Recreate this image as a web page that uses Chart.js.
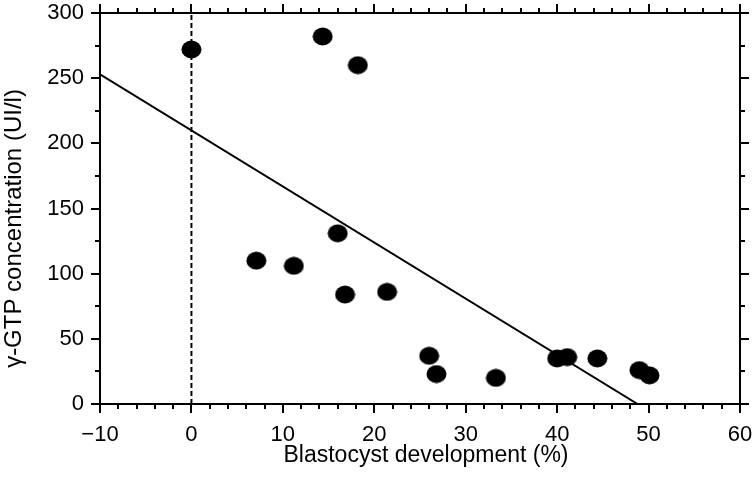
<!DOCTYPE html>
<html>
<head>
<meta charset="utf-8">
<script src="https://cdn.jsdelivr.net/npm/chart.js@4"></script>
<style>
  html, body { margin: 0; padding: 0; background: #fff; }
  #wrap { width: 756px; height: 491px; }
</style>
</head>
<body>
<div id="wrap"><canvas id="chart" width="756" height="491"></canvas></div>
<script>
// --- data ---
const blastX = [0, 14.35, 18.2, 16.0, 7.1, 11.2, 16.8, 21.4, 26.0, 26.8, 33.3, 40.0, 41.1, 44.4, 49.0, 50.1];
const gtpY = [272, 282, 260, 131, 110, 106, 84, 86, 37, 23, 20, 35, 36, 35, 26, 22];

// regression line end points
const regX = [-10, 48.8];
const regY = [253, 0];

// dashed reference line at 0 %
const refX = [0, 0];
const refY = [0, 300];

// axes
const xMin = -10, xMax = 60, xStep = 10, xMinorStep = 2;
const yMin = 0, yMax = 300, yStep = 50, yMinorStep = 25;
const xTitle = 'Blastocyst development (%)';
const yTitle = 'γ-GTP concentration (UI/l)';

const toPoints = (xs, ys) => xs.map((x, i) => ({ x: x, y: ys[i] }));

const family = '"Liberation Sans", Arial, sans-serif';
const tickFont = { family: family, size: 22 };

// ellipse marker, a bit wider than tall
function makeDot() {
    const c = document.createElement('canvas');
    c.width = 21;
    c.height = 19;
    const g = c.getContext('2d');
    g.fillStyle = '#000';
    g.beginPath();
    g.ellipse(10.5, 9.5, 10, 9, 0, 0, Math.PI * 2);
    g.fill();
    return c;
}

// frame, outward tick marks on all four sides, axis titles
const frameTicks = {
    id: 'frameTicks',
    afterDraw(chart) {
        const { ctx, chartArea: a, scales } = chart;
        const xs = scales.x, ys = scales.y;
        ctx.save();
        ctx.strokeStyle = '#000';
        ctx.lineWidth = 2;
        ctx.strokeRect(a.left, a.top, a.right - a.left, a.bottom - a.top);
        ctx.beginPath();
        for (let v = xMin; v <= xMax + 1e-9; v += xMinorStep) {
            const px = Math.round(xs.getPixelForValue(v));
            const len = (v % xStep === 0) ? 9 : 5;
            ctx.moveTo(px, a.bottom); ctx.lineTo(px, a.bottom + len);
            ctx.moveTo(px, a.top); ctx.lineTo(px, a.top - len);
        }
        for (let v = yMin; v <= yMax + 1e-9; v += yMinorStep) {
            const py = Math.round(ys.getPixelForValue(v));
            const len = (v % yStep === 0) ? 9 : 5;
            ctx.moveTo(a.left, py); ctx.lineTo(a.left - len, py);
            ctx.moveTo(a.right, py); ctx.lineTo(a.right + len, py);
        }
        ctx.stroke();

        // titles (the original sits a little off-centre)
        ctx.fillStyle = '#000';
        ctx.textAlign = 'center';
        ctx.textBaseline = 'alphabetic';
        ctx.font = '23px ' + family;
        ctx.fillText(xTitle, (a.left + a.right) / 2 + 6, a.bottom + 58);

        ctx.translate(21, (a.top + a.bottom) / 2 + 20);
        ctx.rotate(-Math.PI / 2);
        ctx.font = '24px ' + family;
        ctx.fillText(yTitle, 0, 0);
        ctx.restore();
    }
};

new Chart(document.getElementById('chart'), {
    type: 'scatter',
    data: {
        datasets: [
            {
                data: toPoints(blastX, gtpY),
                pointStyle: makeDot(),
                pointRadius: 10,
                backgroundColor: '#000',
                borderColor: '#000'
            },
            {
                type: 'line',
                data: toPoints(regX, regY),
                borderColor: '#000',
                borderWidth: 2,
                pointRadius: 0,
                fill: false
            },
            {
                type: 'line',
                data: toPoints(refX, refY),
                borderColor: '#000',
                borderWidth: 2,
                borderDash: [5, 3],
                pointRadius: 0,
                fill: false
            }
        ]
    },
    options: {
        responsive: false,
        animation: false,
        layout: { padding: { top: 13, right: 16, bottom: 20, left: 0 } },
        plugins: {
            legend: { display: false },
            tooltip: { enabled: false }
        },
        scales: {
            x: {
                type: 'linear',
                min: xMin,
                max: xMax,
                grid: { display: false, drawTicks: false },
                border: { display: false },
                afterFit: s => {
                    s.height = 491 - 404 - 20;
                    s.paddingLeft = 0;
                    s.paddingRight = 0;
                },
                ticks: {
                    stepSize: xStep,
                    color: '#000',
                    font: tickFont,
                    padding: 18,
                    maxRotation: 0,
                    callback: v => (v < 0 ? '\u2212' + Math.abs(v) : String(v))
                }
            },
            y: {
                type: 'linear',
                min: yMin,
                max: yMax,
                grid: { display: false, drawTicks: false },
                border: { display: false },
                afterFit: s => {
                    s.width = 100;
                    s.paddingTop = 0;
                    s.paddingBottom = 0;
                },
                ticks: { stepSize: yStep, color: '#000', font: tickFont, padding: 16 }
            }
        }
    },
    plugins: [frameTicks]
});
</script>
</body>
</html>
